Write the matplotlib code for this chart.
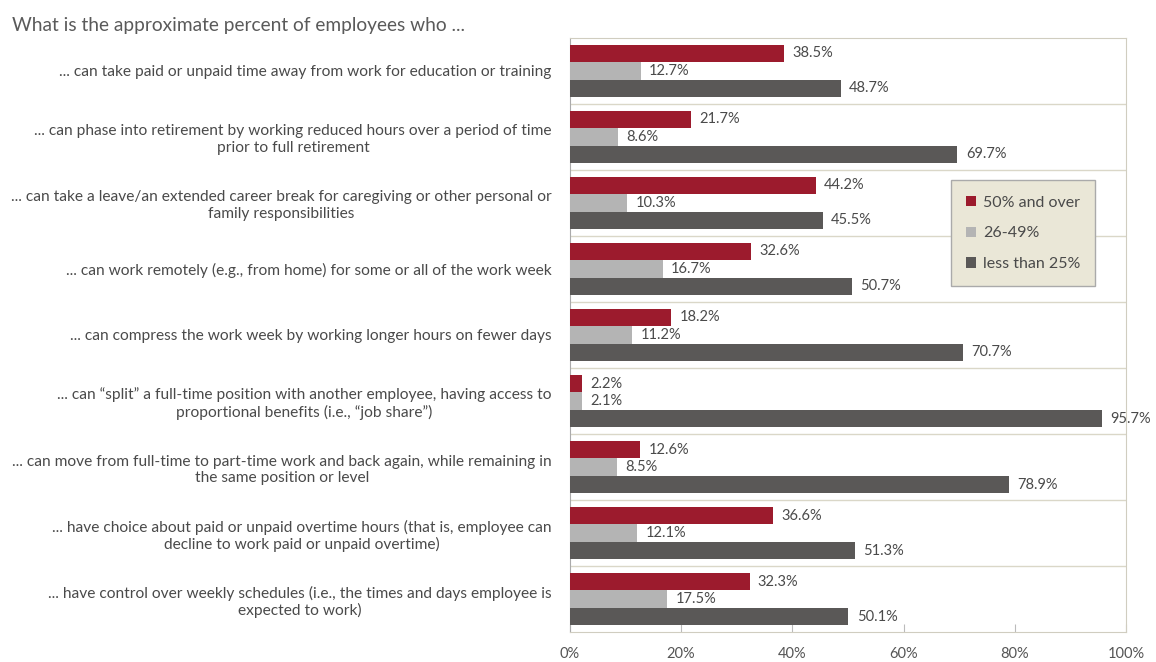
import numpy as np
import matplotlib.pyplot as plt

plt.rcParams['font.family'] = ['Lato', 'DejaVu Sans']

categories = [
    "... can take paid or unpaid time away from work for education or training",
    "... can phase into retirement by working reduced hours over a period of time\nprior to full retirement",
    "... can take a leave/an extended career break for caregiving or other personal or\nfamily responsibilities",
    "... can work remotely (e.g., from home) for some or all of the work week",
    "... can compress the work week by working longer hours on fewer days",
    "... can \u201csplit\u201d a full-time position with another employee, having access to\nproportional benefits (i.e., \u201cjob share\u201d)",
    "... can move from full-time to part-time work and back again, while remaining in\nthe same position or level",
    "... have choice about paid or unpaid overtime hours (that is, employee can\ndecline to work paid or unpaid overtime)",
    "... have control over weekly schedules (i.e., the times and days employee is\nexpected to work)",
]
series_names = ["50% and over", "26-49%", "less than 25%"]
over_50 = [38.5, 21.7, 44.2, 32.6, 18.2, 2.2, 12.6, 36.6, 32.3]
mid_26_49 = [12.7, 8.6, 10.3, 16.7, 11.2, 2.1, 8.5, 12.1, 17.5]
under_25 = [48.7, 69.7, 45.5, 50.7, 70.7, 95.7, 78.9, 51.3, 50.1]
xticks = [0, 20, 40, 60, 80, 100]

colors = ["#9C1B2D", "#B4B4B4", "#5A5857"]
text_col = "#4A4A4A"

fig = plt.figure(figsize=(11.56, 6.62), dpi=100)
ax = fig.add_axes([0.493, 0.045, 0.481, 0.898])

y = np.arange(len(categories))
h = 0.265
for k, vals in enumerate([over_50, mid_26_49, under_25]):
    pos = y + (k - 1) * h
    ax.barh(pos, vals, height=h, color=colors[k], label=series_names[k], zorder=3)
    for p, v in zip(pos, vals):
        ax.annotate(f"{v}%", (v, p), xytext=(6, 0), textcoords="offset points",
                    va="center", ha="left", fontsize=10.5, color=text_col,
                    annotation_clip=False)

ax.set_xlim(0, 100)
ax.set_ylim(len(categories) - 0.5, -0.5)
ax.set_xticks(xticks)
ax.set_xticklabels([f"{t}%" for t in xticks], fontsize=10.5, color="#555555")
ax.set_yticks(y)
ax.set_yticklabels(categories, fontsize=11.2, color=text_col, multialignment="center")
ax.tick_params(axis="y", length=0, pad=13)
ax.tick_params(axis="x", direction="in", length=6, color="#BBBBBB", pad=11)

for b in np.arange(len(categories) - 1) + 0.5:
    ax.axhline(b, color="#DAD7C8", lw=1, zorder=1)

for s in ["top", "right", "bottom"]:
    ax.spines[s].set_color("#D0CDC0")
ax.spines["left"].set_color("#AAAAAA")

leg = ax.legend(loc="upper left", bbox_to_anchor=(0.685, 0.76), borderaxespad=0,
                frameon=True, fancybox=False, facecolor="#EAE7D7", edgecolor="#AAAAAA",
                fontsize=11.5, handlelength=0.6, handleheight=0.6,
                labelspacing=1.05, borderpad=0.95, handletextpad=0.45)
leg.get_frame().set_alpha(1)
for t in leg.get_texts():
    t.set_color(text_col)

fig.text(0.010, 0.953, "What is the approximate percent of employees who ...",
         fontsize=13.8, color="#5A5A5A")

fig.savefig("out.png", dpi=100)
